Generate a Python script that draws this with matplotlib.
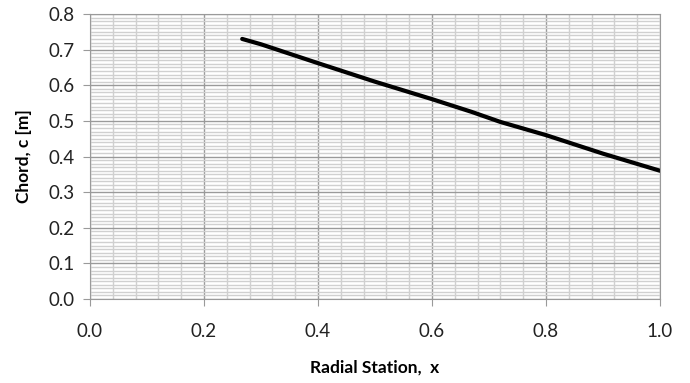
import matplotlib.pyplot as plt
from matplotlib.ticker import MultipleLocator

# radial station vs chord
station = [0.267, 0.3, 0.4, 0.5, 0.6, 0.67, 0.72, 0.8, 0.9, 1.0]
chord = [0.730, 0.715, 0.662, 0.610, 0.561, 0.525, 0.497, 0.460, 0.408, 0.360]

plt.rcParams["font.family"] = ["Lato", "DejaVu Sans"]

fig = plt.figure(figsize=(6.9, 3.83), dpi=100)
ax = fig.add_axes([90 / 690, 1 - 299 / 383, 570 / 690, 285 / 383])

ax.plot(station, chord, color="black", linewidth=3, solid_capstyle="round")

ax.set_xlim(0, 1.0)
ax.set_ylim(0, 0.8)
ax.xaxis.set_major_locator(MultipleLocator(0.2))
ax.xaxis.set_minor_locator(MultipleLocator(0.04))
ax.yaxis.set_major_locator(MultipleLocator(0.1))
ax.yaxis.set_minor_locator(MultipleLocator(0.01))
ax.xaxis.set_major_formatter(lambda v, p: f"{v:.1f}")
ax.yaxis.set_major_formatter(lambda v, p: f"{v:.1f}")

ax.grid(which="major", color="#9a9a9a", linewidth=1)
ax.grid(which="minor", color="#d0d0d0", linewidth=1)
ax.set_axisbelow(True)

for s in ax.spines.values():
    s.set_color("#9a9a9a")

ax.tick_params(which="major", direction="out", length=5, color="#9a9a9a",
               labelsize=13.5, labelcolor="#222222")
ax.tick_params(axis="x", which="major", pad=12)
ax.tick_params(axis="y", which="major", pad=6)
ax.tick_params(which="minor", length=0)

ax.set_xlabel("Radial Station,  x", fontsize=12.5, fontweight="bold", labelpad=14)
ax.set_ylabel("Chord, c [m]", fontsize=12.5, fontweight="bold", labelpad=12)

fig.savefig("out.png", dpi=100)
